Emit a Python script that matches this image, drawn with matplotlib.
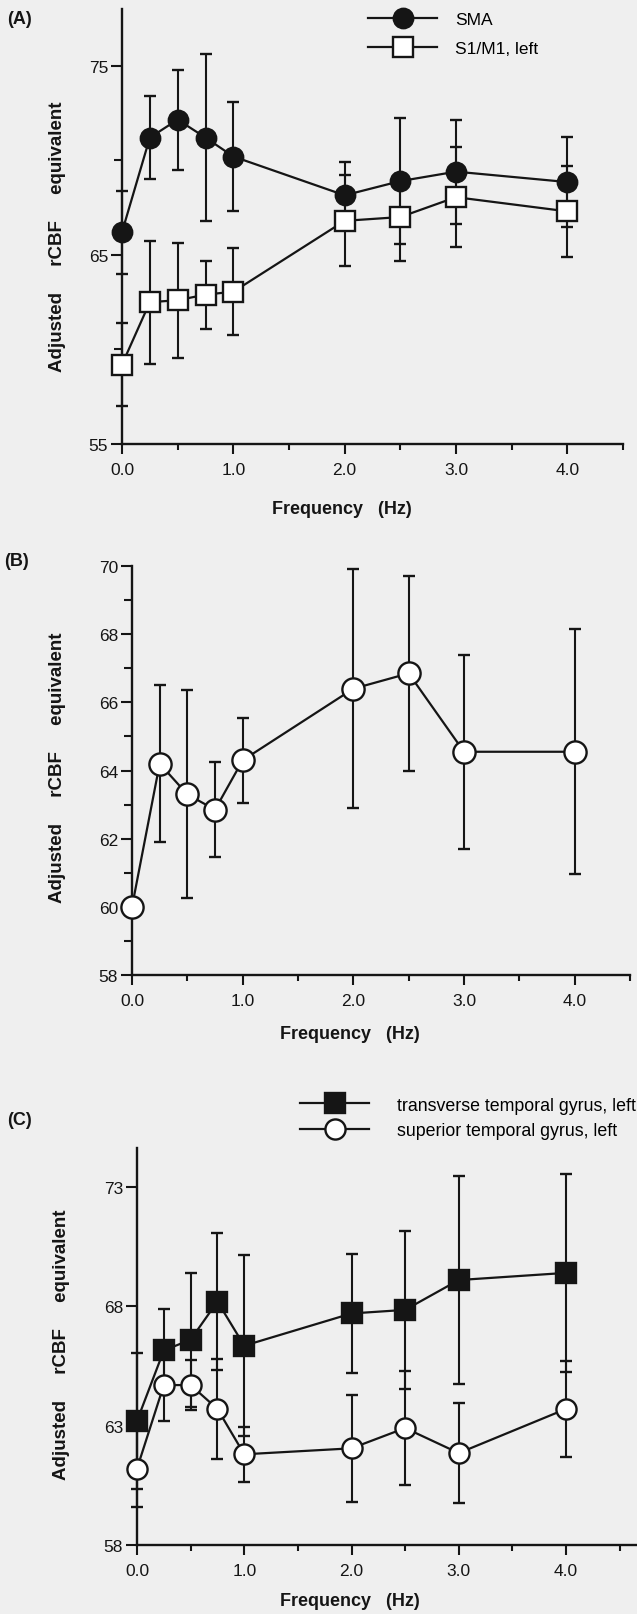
import numpy as np
import matplotlib
matplotlib.use("Agg")
import matplotlib.pyplot as plt
from matplotlib.ticker import MultipleLocator

plt.rcParams['font.family'] = ['Liberation Sans', 'DejaVu Sans']

# ---- panel A data ----
freq_a = [0.0, 0.25, 0.5, 0.75, 1.0, 2.0, 2.5, 3.0, 4.0]
sma = [66.2, 71.2, 72.15, 71.2, 70.2, 68.15, 68.9, 69.4, 68.85]
sma_err = [2.2, 2.2, 2.65, 4.4, 2.9, 1.75, 3.35, 2.75, 2.4]
s1m1 = [59.2, 62.5, 62.6, 62.9, 63.05, 66.8, 67.0, 68.05, 67.3]
s1m1_err = [2.2, 3.25, 3.05, 1.8, 2.3, 2.4, 2.3, 2.65, 2.4]

# ---- panel B data ----
freq_b = [0.0, 0.25, 0.5, 0.75, 1.0, 2.0, 2.5, 3.0, 4.0]
vals_b = [60.0, 64.2, 63.3, 62.85, 64.3, 66.4, 66.85, 64.55, 64.55]
err_b = [0.0, 2.3, 3.05, 1.4, 1.25, 3.5, 2.85, 2.85, 3.6]

# ---- panel C data ----
freq_c = [0.0, 0.25, 0.5, 0.75, 1.0, 2.0, 2.5, 3.0, 4.0]
ttg = [63.2, 66.15, 66.6, 68.2, 66.35, 67.7, 67.85, 69.1, 69.4]
ttg_err = [2.85, 1.75, 2.8, 2.85, 3.8, 2.5, 3.3, 4.35, 4.15]
stg = [61.2, 64.7, 64.7, 63.7, 61.8, 62.05, 62.9, 61.85, 63.7]
stg_err = [1.6, 1.5, 1.05, 2.1, 1.15, 2.25, 2.4, 2.1, 2.0]

INK = '#151515'
BG = '#efefef'
W, H = 637, 1615
TICK_FS = 12.5
LEG_FS = 12.5
LAB_FS = 13

fig = plt.figure(figsize=(W / 100, H / 100), dpi=100)
fig.patch.set_facecolor(BG)


def px_axes(left, right, top, bottom):
    """axes from pixel box (top-left origin)"""
    ax = fig.add_axes([left / W, 1 - bottom / H, (right - left) / W, (bottom - top) / H])
    ax.set_facecolor('none')
    for s in ('top', 'right'):
        ax.spines[s].set_visible(False)
    for s in ('left', 'bottom'):
        ax.spines[s].set_linewidth(1.7)
        ax.spines[s].set_color(INK)
    ax.xaxis.set_major_locator(MultipleLocator(1.0))
    ax.xaxis.set_minor_locator(MultipleLocator(0.5))
    ax.xaxis.set_major_formatter(matplotlib.ticker.FormatStrFormatter('%.1f'))
    ax.tick_params(axis='x', which='major', direction='out', length=7, width=1.5,
                   colors=INK, labelsize=TICK_FS, pad=6)
    ax.tick_params(axis='x', which='minor', direction='out', length=4, width=1.5, colors=INK)
    ax.tick_params(axis='y', which='major', direction='out', length=8, width=1.5,
                   colors=INK, labelsize=TICK_FS, pad=2)
    ax.tick_params(axis='y', which='minor', direction='out', length=6, width=1.5, colors=INK)
    return ax


def series(ax, x, y, e, marker, mfc, ms):
    line, caps, bars = ax.errorbar(x, y, yerr=e, fmt='-', color=INK, lw=1.6,
                                   marker=marker, mfc=mfc, mec=INK, mew=1.7, ms=ms,
                                   elinewidth=1.5, capsize=4, capthick=1.5, zorder=3)
    line.set_clip_on(False)
    for a in list(caps) + list(bars):
        a.set_clip_on(False)
    return line


def labels(ax, xlab_xy, ylab_xy):
    fig.text(xlab_xy[0] / W, 1 - xlab_xy[1] / H, 'Frequency   (Hz)', ha='center', va='center',
             fontsize=LAB_FS, fontweight='bold', color=INK)
    fig.text(ylab_xy[0] / W, 1 - ylab_xy[1] / H, 'Adjusted     rCBF     equivalent', ha='center',
             va='center', rotation=90, fontsize=LAB_FS + 0.5, fontweight='bold', color=INK)


def panel_tag(tag, x, y):
    fig.text(x / W, 1 - y / H, tag, ha='left', va='center', fontsize=13,
             fontweight='bold', color=INK)


# ---------- (A) ----------
ax_a = px_axes(122, 623, 10, 445)
ax_a.set_xlim(0, 4.5)
ax_a.set_ylim(55, 78)
ax_a.set_yticks([55, 65, 75])
ax_a.yaxis.set_minor_locator(matplotlib.ticker.FixedLocator([60, 70]))
h_sma = series(ax_a, freq_a, sma, sma_err, 'o', INK, 14)
h_s1 = series(ax_a, freq_a, s1m1, s1m1_err, 's', 'white', 14)
ax_a.legend([h_sma, h_s1], ['SMA', 'S1/M1, left'], loc='center left',
            bbox_to_anchor=(368 / W, 1 - 35 / H), bbox_transform=fig.transFigure,
            frameon=False, fontsize=LEG_FS, handlelength=4.0, handletextpad=1.0,
            labelspacing=0.75, borderpad=0, borderaxespad=0)
labels(ax_a, (342, 509), (57, 237))
panel_tag('(A)', 7, 20)

# ---------- (B) ----------
ax_b = px_axes(132, 630, 567, 976)
ax_b.set_xlim(0, 4.5)
ax_b.set_ylim(58, 70)
ax_b.yaxis.set_major_locator(MultipleLocator(2))
ax_b.yaxis.set_minor_locator(MultipleLocator(1))
series(ax_b, freq_b, vals_b, err_b, 'o', 'white', 16)
labels(ax_b, (350, 1035), (57, 768))
panel_tag('(B)', 4, 562)

# ---------- (C) ----------
ax_c = px_axes(137, 637, 1149, 1546)
ax_c.set_xlim(0, 500 / 107.25)
ax_c.set_ylim(58, 58 + 397 / 23.87)
ax_c.set_yticks([58, 63, 68, 73])
h_ttg = series(ax_c, freq_c, ttg, ttg_err, 's', INK, 14.5)
h_stg = series(ax_c, freq_c, stg, stg_err, 'o', 'white', 14.5)
ax_c.legend([h_ttg, h_stg], ['transverse temporal gyrus, left', 'superior temporal gyrus, left'],
            loc='center left', bbox_to_anchor=(300 / W, 1 - 1119 / H),
            bbox_transform=fig.transFigure, frameon=False, fontsize=LEG_FS + 0.3,
            handlelength=3.9, handletextpad=1.55, labelspacing=0.5,
            borderpad=0, borderaxespad=0)
labels(ax_c, (350, 1602), (62, 1345))
panel_tag('(C)', 7, 1121)

fig.savefig('out.png', dpi=100, facecolor=BG)
